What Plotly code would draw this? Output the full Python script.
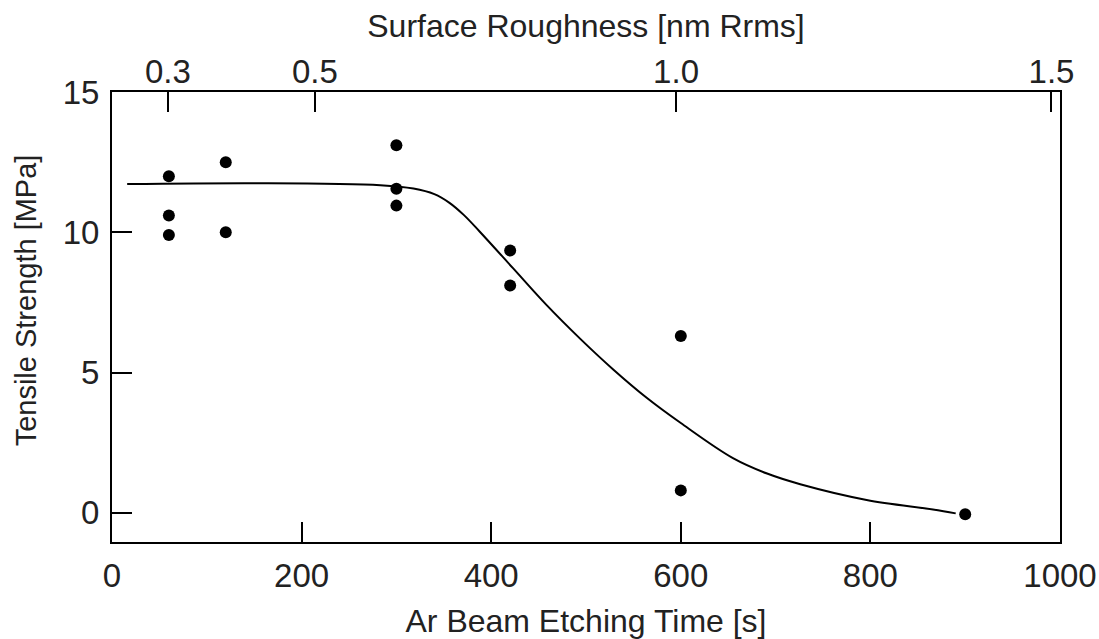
import plotly.graph_objects as go

# Measured points: Ar beam etching time [s] vs tensile strength [MPa]
etch_time = [60, 60, 60, 120, 120, 300, 300, 300, 420, 420, 600, 600, 900]
tensile = [12.0, 10.6, 9.9, 12.5, 10.0, 13.1, 11.55, 10.95, 9.35, 8.1, 6.3, 0.8, -0.05]

# Fitted trend curve
curve_time = [16, 156, 283, 318, 340, 356, 371, 388, 423, 458, 494, 529, 564, 600,
              655, 691, 726, 796, 866, 890]
curve_strength = [11.72, 11.75, 11.68, 11.56, 11.36, 11.05, 10.62, 10.02, 8.72, 7.42,
                  6.2, 5.1, 4.1, 3.2, 1.95, 1.4, 1.02, 0.46, 0.12, -0.02]

# Axis ticks
x_ticks = [0, 200, 400, 600, 800, 1000]
y_ticks = [0, 5, 10, 15]
roughness_labels = ["0.3", "0.5", "1.0", "1.5"]
roughness_at_time = [59, 214, 595, 991]

font_family = "Liberation Sans, Arial, sans-serif"
txt = "#222222"

fig = go.Figure()
fig.add_trace(go.Scatter(
    x=curve_time, y=curve_strength, mode="lines",
    line=dict(color="black", width=2, shape="spline", smoothing=1.0),
    showlegend=False, hoverinfo="skip"))
fig.add_trace(go.Scatter(
    x=etch_time, y=tensile, mode="markers",
    marker=dict(color="black", size=12),
    showlegend=False))
# invisible trace to activate top axis
fig.add_trace(go.Scatter(x=[None], y=[None], xaxis="x2", showlegend=False))

fig.update_layout(
    width=1099, height=639,
    paper_bgcolor="white", plot_bgcolor="white",
    margin=dict(l=112, r=39, t=92, b=97, autoexpand=False),
    font=dict(family=font_family, color=txt),
    xaxis=dict(
        range=[0, 1000], tickvals=x_ticks, ticks="inside", ticklen=20,
        tickwidth=2, tickcolor="black", showline=True, linecolor="black",
        linewidth=2, showgrid=False, zeroline=False, automargin=False,
        tickfont=dict(size=33, color=txt), ticklabelstandoff=3,
        title=dict(text="Ar Beam Etching Time [s]", font=dict(size=32, color=txt),
                   standoff=18),
    ),
    xaxis2=dict(
        overlaying="x", side="top", range=[0, 1000],
        tickvals=roughness_at_time, ticktext=roughness_labels,
        ticks="inside", ticklen=20, tickwidth=2, tickcolor="black",
        showline=True, linecolor="black", linewidth=2, showgrid=False,
        zeroline=False, automargin=False,
        tickfont=dict(size=33, color=txt), ticklabelstandoff=-6,
        title=dict(text="Surface Roughness [nm Rrms]", font=dict(size=32, color=txt),
                   standoff=6),
    ),
    yaxis=dict(
        range=[-1.04, 15], tickvals=y_ticks, ticks="inside", ticklen=20,
        tickwidth=2, tickcolor="black", showline=True, linecolor="black",
        linewidth=2, mirror=True, showgrid=False, zeroline=False, automargin=False,
        tickfont=dict(size=33, color=txt), ticklabelstandoff=4,
    ),
    annotations=[dict(
        text="Tensile Strength [MPa]", textangle=-90, showarrow=False,
        xref="paper", yref="paper", x=-0.0907, y=0.537,
        xanchor="center", yanchor="middle",
        font=dict(size=29, color=txt, family=font_family),
    )],
)

fig.write_html(
    "out.html",
    config={"displayModeBar": False},
    post_script="document.body.style.margin='0';document.body.style.overflow='hidden';",
)
